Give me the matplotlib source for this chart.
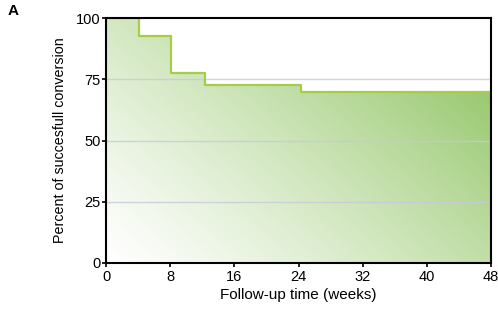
import numpy as np
import matplotlib.pyplot as plt
from matplotlib.patches import Polygon

# Kaplan-Meier style step data (weeks, percent)
weeks = [0, 4.1, 8.1, 12.3, 24.3, 48]
percent = [100, 92.5, 77.5, 72.5, 70, 70]
xticks = [0, 8, 16, 24, 32, 40, 48]
yticks = [0, 25, 50, 75, 100]

plt.rcParams['font.family'] = ['Liberation Sans', 'DejaVu Sans']

fig = plt.figure(figsize=(4.98, 3.12), dpi=100)
ax = fig.add_axes([106 / 498, 49 / 312, 385 / 498, 245 / 312])

# build step outline
xs, ys = [weeks[0]], [percent[0]]
for i in range(1, len(weeks)):
    xs += [weeks[i], weeks[i]]
    ys += [percent[i - 1], percent[i]]

# gradient fill under the curve: white bottom-left -> green top-right
gx, gy = np.meshgrid(np.linspace(0, 1, 300), np.linspace(0, 1, 300))
t = np.clip((gx * 0.75 + gy * 0.55) / 1.3, 0, 1) ** 1.2
white = np.array([1.0, 1.0, 1.0])
green = np.array([0.53, 0.75, 0.34])
img = white[None, None, :] * (1 - t[..., None]) + green[None, None, :] * t[..., None]
im = ax.imshow(img, extent=[0, 48, 0, 100], origin='lower', aspect='auto', zorder=1)
poly = Polygon(list(zip(xs, ys)) + [(48, 0), (0, 0)], closed=True,
               facecolor='none', edgecolor='none')
ax.add_patch(poly)
im.set_clip_path(poly)

for v in [25, 50, 75]:
    ax.axhline(v, color='#c8c8dc', lw=1, zorder=2, alpha=0.8)

ax.plot(xs, ys, color='#a5cd45', lw=1.6, zorder=3)

ax.set_xlim(0, 48)
ax.set_ylim(0, 100)
ax.set_xticks(xticks)
ax.set_yticks(yticks)
ax.tick_params(labelsize=10.5, length=3, width=1.2)
ax.tick_params(axis='x', pad=2)
ax.tick_params(axis='y', pad=1)
for s in ax.spines.values():
    s.set_linewidth(1.5)
    s.set_zorder(4)
ax.set_xlabel('Follow-up time (weeks)', fontsize=11, labelpad=3)
ax.set_ylabel('Percent of succesfull conversion', fontsize=10.3, labelpad=6)

fig.text(8 / 498, 1 - 11 / 312, 'A', fontsize=11, fontweight='bold',
         va='center', ha='left')

fig.savefig('out.png', dpi=100)
